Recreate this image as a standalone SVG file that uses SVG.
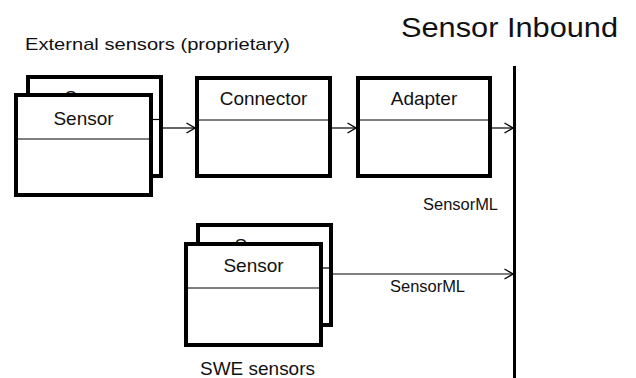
<svg xmlns="http://www.w3.org/2000/svg" width="636" height="378" viewBox="0 0 636 378">
<defs>
<style>
.box{fill:#fff;stroke:#000;stroke-width:4}
.div{stroke:#000;stroke-width:1;fill:none}
.lbl{font-family:"Liberation Sans",Arial,sans-serif;font-size:19px;fill:#111;text-anchor:middle}
.cap{font-family:"Liberation Sans",Arial,sans-serif;fill:#111}
.conn{stroke:#000;stroke-width:1.2;fill:none}
</style>
<marker id="arr" viewBox="0 0 10 12" refX="9.5" refY="6" markerWidth="10" markerHeight="12" markerUnits="userSpaceOnUse" orient="auto">
<path d="M1,1 L9.5,6 L1,11" fill="none" stroke="#000" stroke-width="1.4"/>
</marker>
</defs>
<rect width="636" height="378" fill="#fff"/>
<text class="cap" x="401" y="37" font-size="28" textLength="217" lengthAdjust="spacingAndGlyphs">Sensor Inbound</text>
<text class="cap" x="25" y="50" font-size="17" textLength="265" lengthAdjust="spacingAndGlyphs">External sensors (proprietary)</text>
<g id="ext-sensor-back">
<rect class="box" x="28" y="77" width="133" height="99"/>
<text class="lbl" x="94.5" y="104">Sensor</text>
</g>
<g id="ext-sensor-front">
<rect class="box" x="16" y="95" width="135" height="100"/>
<line class="div" x1="16" y1="139" x2="151" y2="139"/>
<text class="lbl" x="83.5" y="125">Sensor</text>
</g>
<g id="connector">
<rect class="box" x="197" y="78" width="133" height="98"/>
<line class="div" x1="197" y1="120" x2="330" y2="120"/>
<text class="lbl" x="263.5" y="105">Connector</text>
</g>
<g id="adapter">
<rect class="box" x="358" y="78" width="132" height="98"/>
<line class="div" x1="358" y1="120" x2="490" y2="120"/>
<text class="lbl" x="424" y="105">Adapter</text>
</g>
<g id="swe-sensor-back">
<rect class="box" x="198" y="225" width="133" height="100"/>
<text class="lbl" x="264.5" y="252">Sensor</text>
</g>
<g id="swe-sensor-front">
<rect class="box" x="186" y="244" width="135" height="101"/>
<line class="div" x1="186" y1="288" x2="321" y2="288"/>
<text class="lbl" x="253.5" y="272">Sensor</text>
</g>
<g id="inbound-bar">
<line x1="514.5" y1="66" x2="514.5" y2="378" stroke="#000" stroke-width="3"/>
</g>
<g id="connectors">
<line class="conn" x1="153" y1="119.5" x2="159" y2="119.5"/>
<line class="conn" x1="163" y1="128" x2="195" y2="128" marker-end="url(#arr)"/>
<line class="conn" x1="332" y1="128" x2="356" y2="128" marker-end="url(#arr)"/>
<line class="conn" x1="492" y1="128" x2="513" y2="128" marker-end="url(#arr)"/>
<line class="conn" x1="323" y1="268" x2="329" y2="268"/>
<line class="conn" x1="333" y1="274" x2="513" y2="274" marker-end="url(#arr)"/>
</g>
<text class="cap" x="423" y="210" font-size="16" textLength="75" lengthAdjust="spacingAndGlyphs">SensorML</text>
<text class="cap" x="390" y="292" font-size="16" textLength="75" lengthAdjust="spacingAndGlyphs">SensorML</text>
<text class="cap" x="200" y="375" font-size="19" textLength="115" lengthAdjust="spacingAndGlyphs">SWE sensors</text>
</svg>
